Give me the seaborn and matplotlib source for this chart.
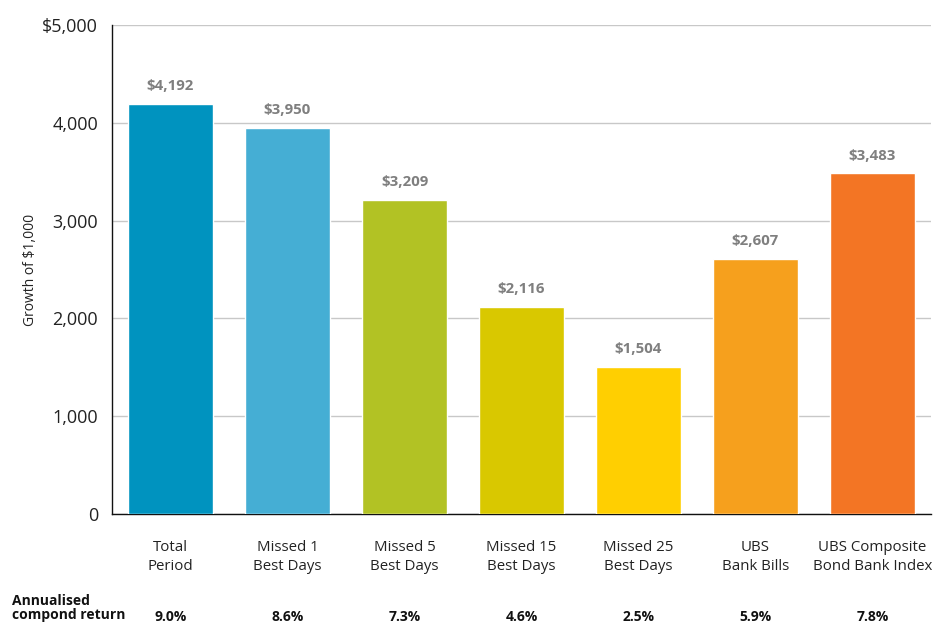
import matplotlib
matplotlib.use("Agg")
import matplotlib.pyplot as plt
import seaborn as sns
import pandas as pd

categories = ["Total\nPeriod", "Missed 1\nBest Days", "Missed 5\nBest Days", "Missed 15\nBest Days",
              "Missed 25\nBest Days", "UBS\nBank Bills", "UBS Composite\nBond Bank Index"]
values = [4192, 3950, 3209, 2116, 1504, 2607, 3483]
returns = ["9.0%", "8.6%", "7.3%", "4.6%", "2.5%", "5.9%", "7.8%"]
colors = ["#0093BF", "#45AED4", "#B2C224", "#D9C800", "#FFCF01", "#F6A01D", "#F37524"]
yticks = [0, 1000, 2000, 3000, 4000, 5000]
ytick_labels = ["0", "1,000", "2,000", "3,000", "4,000", "$5,000"]

sns.set_theme(style="white")
plt.rcParams["font.family"] = ["Open Sans", "DejaVu Sans"]

df = pd.DataFrame({"cat": categories, "val": values})

fig = plt.figure(figsize=(9.33, 6.24), dpi=100)
ax = fig.add_axes([112/933, 1-514/624, (931-112)/933, (514-25)/624])
sns.barplot(data=df, x="cat", y="val", hue="cat", palette=colors, legend=False,
            width=0.73, saturation=1, ax=ax, zorder=3)
ax.set_xlim(-0.5, 6.5)
ax.set_ylim(0, 5000)
ax.set_yticks(yticks)
ax.set_yticklabels(ytick_labels, fontsize=13, color="#222222")
ax.yaxis.grid(True, color="#c8c8c8", linewidth=1, zorder=0)
ax.set_axisbelow(True)
for s in ["top", "right"]:
    ax.spines[s].set_visible(False)
for s in ["left", "bottom"]:
    ax.spines[s].set_color("#111111")
    ax.spines[s].set_linewidth(1)
ax.tick_params(axis="y", length=0, pad=10)
ax.tick_params(axis="x", length=0, pad=19)
ax.set_xticks(range(len(categories)))
ax.set_xticklabels(categories, fontsize=10.8, color="#222222", linespacing=1.3)
ax.set_xlabel("")
ax.set_ylabel("Growth of $1,000", fontsize=10, color="#222222", labelpad=3)

for i, v in enumerate(values):
    ax.text(i, v + 110, f"${v:,}", ha="center", va="bottom", fontsize=10.8,
            fontweight="bold", color="#7f7f7f")

fig.text(12/933, 1-608/624, "Annualised\ncompond return", ha="left", va="center",
         fontsize=10, fontweight="bold", color="#111111", linespacing=1.0)
for i, r in enumerate(returns):
    xf = (112 + (i + 0.5) * 117) / 933
    fig.text(xf, 1-617/624, r, ha="center", va="center", fontsize=10,
             fontweight="bold", color="#111111")

fig.savefig("out.png", dpi=100)
